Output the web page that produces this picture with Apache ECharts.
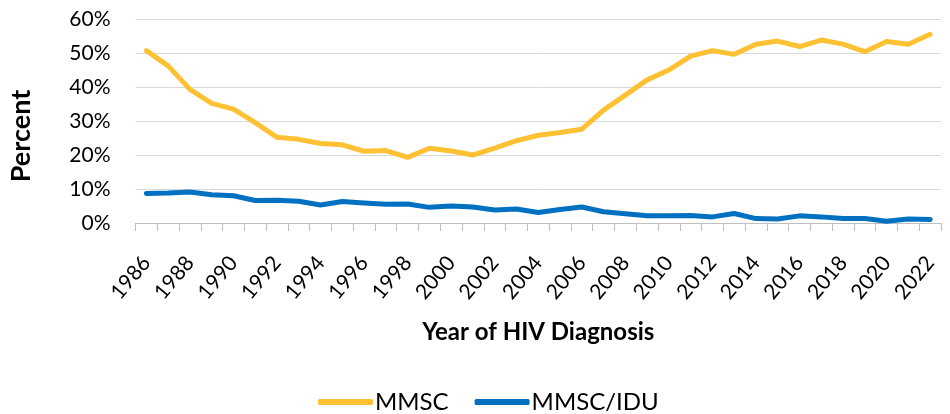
<!DOCTYPE html>
<html>
<head>
<meta charset="utf-8">
<script src="https://cdn.jsdelivr.net/npm/echarts@6/dist/echarts.min.js"></script>
<style>html,body{margin:0;padding:0;background:#fff}#c{width:950px;height:414px}</style>
</head>
<body>
<div id="c"></div>
<script>
const years = [];
for (let y = 1986; y <= 2022; y++) years.push(String(y));
const mmsc = [50.7,46.2,39.3,35.2,33.5,29.5,25.2,24.6,23.4,23.0,21.1,21.3,19.3,22.0,21.2,20.0,22.0,24.2,25.8,26.6,27.6,33.2,37.6,42.1,45.0,49.1,50.7,49.6,52.6,53.5,51.9,53.8,52.6,50.4,53.4,52.6,55.5];
const mmscIdu = [8.7,8.8,9.1,8.3,8.0,6.6,6.7,6.4,5.3,6.3,5.9,5.5,5.6,4.6,5.0,4.7,3.8,4.1,3.1,4.0,4.7,3.3,2.7,2.1,2.1,2.2,1.8,2.8,1.3,1.2,2.1,1.8,1.3,1.3,0.5,1.2,1.0];
const yTicks = [0,10,20,30,40,50,60];

const FONT = 'Lato, "Noto Sans", sans-serif';
const chart = echarts.init(document.getElementById('c'), null, {renderer:'canvas'});
chart.setOption({
  animation: false,
  textStyle: {fontFamily: FONT, color: '#000'},
  grid: {left: 130, right: 9, top: 19, bottom: 191, containLabel: false},
  legend: {
    top: 385, left: 313,
    itemWidth: 55, itemHeight: 6, itemGap: 26,
    icon: 'roundRect',
    textStyle: {fontFamily: FONT, fontSize: 24, color: '#000', padding: [0,0,0,-3]},
    data: ['MMSC','MMSC/IDU']
  },
  xAxis: {
    type: 'category',
    data: years,
    boundaryGap: true,
    name: 'Year of HIV Diagnosis',
    nameLocation: 'middle',
    nameGap: 109,
    nameTextStyle: {fontFamily: FONT, fontSize: 24, fontWeight: 'bold', color: '#000', verticalAlign: 'middle'},
    axisLine: {lineStyle: {color: '#bfbfbf', width: 1}},
    axisTick: {show: true, length: 8, interval: 0, lineStyle: {color: '#bfbfbf'}},
    axisLabel: {rotate: 50, interval: 1, fontSize: 21, color: '#000', margin: 36, fontFamily: FONT},
    splitLine: {show: false}
  },
  yAxis: {
    type: 'value',
    min: 0, max: 60, interval: 10,
    name: 'Percent',
    nameLocation: 'middle',
    nameGap: 114,
    nameRotate: 90,
    nameTextStyle: {fontFamily: FONT, fontSize: 27, fontWeight: 'bold', color: '#000', verticalAlign: 'middle', padding: [0, 30, 0, 0]},
    axisLine: {show: false},
    axisTick: {show: false},
    axisLabel: {fontSize: 21, color: '#000', margin: 25, fontFamily: FONT,
      formatter: v => yTicks.includes(v) ? v + '%' : ''},
    splitLine: {lineStyle: {color: '#d9d9d9', width: 1}}
  },
  series: [
    {name: 'MMSC', type: 'line', data: mmsc, showSymbol: false, symbol: 'none',
     lineStyle: {color: '#FFC134', width: 5, cap: 'round', join: 'round'}, itemStyle: {color: '#FFC134'}},
    {name: 'MMSC/IDU', type: 'line', data: mmscIdu, showSymbol: false, symbol: 'none',
     lineStyle: {color: '#0070C0', width: 5, cap: 'round', join: 'round'}, itemStyle: {color: '#0070C0'}}
  ]
});
</script>
</body>
</html>
